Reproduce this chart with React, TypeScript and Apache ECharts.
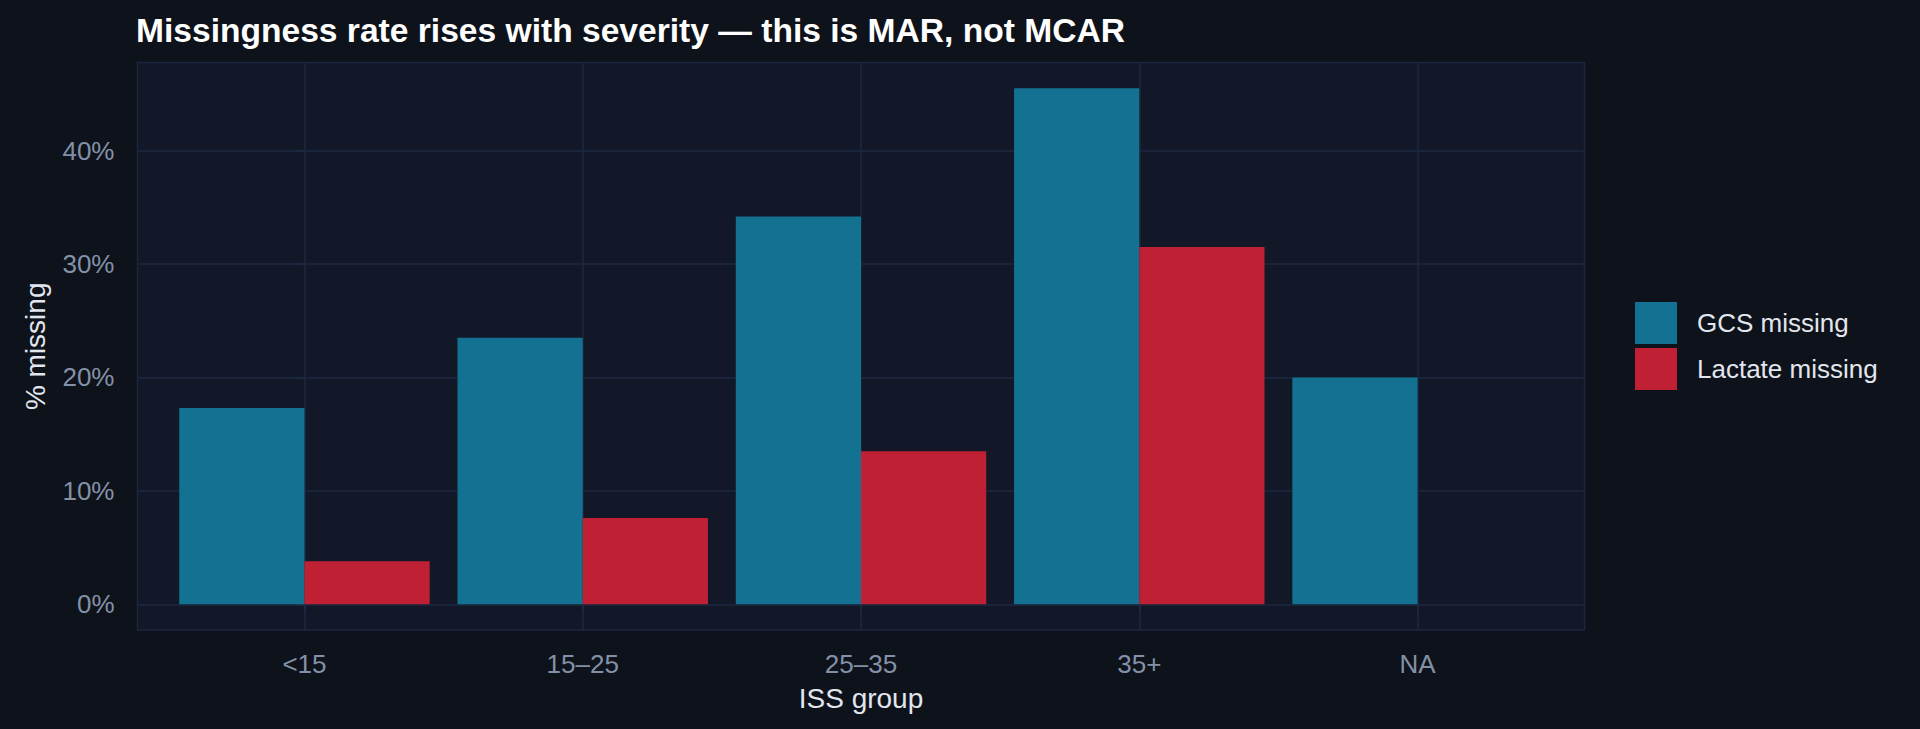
import React, { useEffect, useRef } from "react";
import * as echarts from "echarts";

const categories = ["<15", "15–25", "25–35", "35+", "NA"];
const gcsMissing: (number | null)[] = [17.3, 23.5, 34.2, 45.5, 20.0];
const lactateMissing: (number | null)[] = [3.8, 7.6, 13.5, 31.5, null];
const yTicks = [0, 10, 20, 30, 40];
const seriesNames = ["GCS missing", "Lactate missing"];
const titleText = "Missingness rate rises with severity — this is MAR, not MCAR";
const xTitle = "ISS group";
const yTitle = "% missing";

const FONT = "'Liberation Sans', Arial, Helvetica, sans-serif";
const BG = "#0e121a";
const PANEL = "#121827";
const GRID = "#1c2740";
const TICK_TEXT = "#8391a8";
const LIGHT_TEXT = "#e2e6ee";
const COLORS = ["#137191", "#c02034"];

export default function App() {
  const ref = useRef<HTMLDivElement | null>(null);

  useEffect(() => {
    document.body.style.margin = "0";
    document.body.style.background = BG;
    if (!ref.current) return;
    const chart = echarts.init(ref.current, undefined, { renderer: "svg" });

    const allVals = [...gcsMissing, ...lactateMissing].filter(
      (v): v is number => v !== null
    );
    const dataMax = Math.max(...allVals);
    const yMin = -0.05 * dataMax;
    const yMax = dataMax * 1.05;
    const catIdx = categories.map((_, i) => i);

    const toData = (arr: (number | null)[]) =>
      arr.map((v, i) => (v === null ? [i, "-"] : [i, v]));

    chart.setOption({
      animation: false,
      backgroundColor: BG,
      textStyle: { fontFamily: FONT },
      title: {
        text: titleText,
        left: 131,
        top: 8,
        textStyle: {
          color: "#ffffff",
          fontSize: 33.6,
          fontWeight: "bold",
          fontFamily: FONT,
        },
      },
      legend: {
        orient: "vertical",
        left: 1630,
        top: 297,
        itemWidth: 42,
        itemHeight: 42,
        itemGap: 4,
        icon: "rect",
        data: seriesNames,
        textStyle: {
          color: LIGHT_TEXT,
          fontSize: 26,
          fontFamily: FONT,
          padding: [0, 0, 0, 15],
        },
      },
      grid: {
        left: 137.5,
        top: 62.5,
        width: 1447,
        height: 567.6,
        show: true,
        backgroundColor: PANEL,
        borderColor: GRID,
        borderWidth: 1.5,
      },
      xAxis: {
        type: "value",
        min: -0.6,
        max: 4.6,
        name: xTitle,
        nameLocation: "middle",
        nameGap: 54,
        nameTextStyle: { color: LIGHT_TEXT, fontSize: 28, fontFamily: FONT },
        axisLine: { show: false },
        axisTick: {
          show: true,
          customValues: catIdx,
          length: 8,
          lineStyle: { color: GRID, width: 2 },
        },
        axisLabel: {
          customValues: catIdx,
          color: TICK_TEXT,
          fontSize: 26,
          fontFamily: FONT,
          margin: 21,
          formatter: (v: number) => categories[Math.round(v)] ?? "",
        },
        splitLine: { show: true, lineStyle: { color: GRID, width: 1.5 } },
      },
      yAxis: {
        type: "value",
        min: yMin,
        max: yMax,
        name: yTitle,
        nameLocation: "middle",
        nameGap: 88,
        nameTextStyle: { color: LIGHT_TEXT, fontSize: 28, fontFamily: FONT },
        axisLine: { show: false },
        axisTick: {
          show: true,
          customValues: yTicks,
          length: 8,
          lineStyle: { color: GRID, width: 2 },
        },
        axisLabel: {
          customValues: yTicks,
          color: TICK_TEXT,
          fontSize: 26,
          fontFamily: FONT,
          margin: 23,
          formatter: (v: number) => `${Math.round(v)}%`,
        },
        splitLine: { show: true, lineStyle: { color: GRID, width: 1.5 } },
      },
      series: [
        {
          name: seriesNames[0],
          type: "bar",
          data: toData(gcsMissing),
          itemStyle: { color: COLORS[0] },
          barGap: "0%",
          barCategoryGap: "10%",
        },
        {
          name: seriesNames[1],
          type: "bar",
          data: toData(lactateMissing),
          itemStyle: { color: COLORS[1] },
          barGap: "0%",
          barCategoryGap: "10%",
        },
      ],
    });

    return () => chart.dispose();
  }, []);

  return <div ref={ref} style={{ width: 1920, height: 729, background: BG }} />;
}
